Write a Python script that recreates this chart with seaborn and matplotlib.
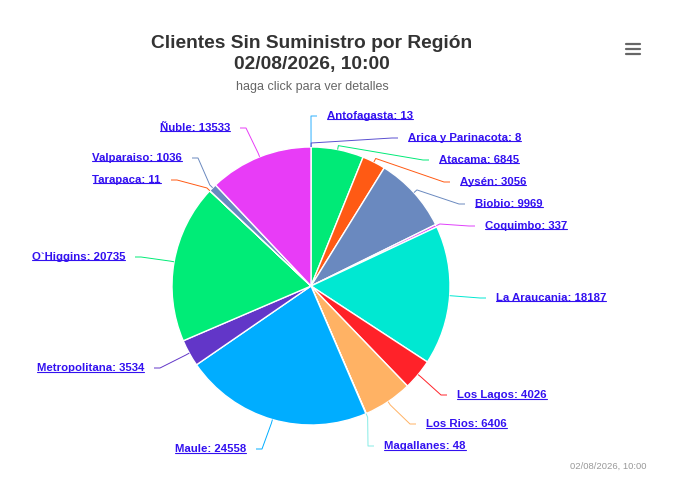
import matplotlib
matplotlib.use("Agg")
import matplotlib.pyplot as plt
import seaborn as sns
import numpy as np

# ---- data ----
regions = ["Antofagasta", "Arica y Parinacota", "Atacama", "Aysén", "Biobio",
           "Coquimbo", "La Araucania", "Los Lagos", "Los Rios", "Magallanes",
           "Maule", "Metropolitana", "O`Higgins", "Tarapaca", "Valparaiso", "Ñuble"]
clients = [13, 8, 6845, 3056, 9969, 337, 18187, 4026, 6406, 48,
           24558, 3534, 20735, 11, 1036, 13533]
colors = ["#2caffe", "#5a4fd0", "#00ea77", "#ff5a14", "#6a89bf",
          "#e040fb", "#00e8d2", "#ff2229", "#ffb264", "#86ece6",
          "#00adff", "#6236c8", "#00ec77", "#ff5a14", "#6a89bf", "#e83cf7"]

title_lines = ["Clientes Sin Suministro por Región", "02/08/2026, 10:00"]
subtitle = "haga click para ver detalles"
credit = "02/08/2026, 10:00"

# ---- layout (pixels from top-left) ----
W, H = 680, 494
cx, cy_px, R = 311, 286, 139
label_layout = [  # x anchor, y centre, side
    (327, 116, "R"), (408, 138, "R"), (439, 160, "R"), (460, 182, "R"),
    (475, 204, "R"), (485, 226, "R"), (496, 298, "R"), (457, 395, "R"),
    (426, 424, "R"), (384, 446, "R"), (246, 449, "L"), (144, 368, "L"),
    (125, 257, "L"), (161, 180, "L"), (182, 158, "L"), (230, 128, "L"),
]

sns.set_theme(style="white")
plt.rcParams['font.family'] = ['Liberation Sans', 'DejaVu Sans']

fig = plt.figure(figsize=(W / 100, H / 100), dpi=100)
fig.patch.set_facecolor("white")
ax = fig.add_axes([0, 0, 1, 1])
cy = H - cy_px

palette = sns.color_palette(colors)
wedges, _ = ax.pie(clients, colors=palette, startangle=90, counterclock=False,
                   center=(cx, cy), radius=R, frame=True,
                   wedgeprops=dict(edgecolor="white", linewidth=1.0))
ax.set_xlim(0, W)
ax.set_ylim(0, H)
ax.set_aspect("auto")
ax.axis("off")

link_color = "#3311f0"
texts = []
for w, name, val, col, (lx, ly_px, side) in zip(wedges, regions, clients, colors, label_layout):
    ang = np.deg2rad((w.theta1 + w.theta2) / 2)
    ex, ey = cx + R * np.cos(ang), cy + R * np.sin(ang)
    sx, sy = cx + (R + 4) * np.cos(ang), cy + (R + 4) * np.sin(ang)
    ly = H - ly_px
    d = 1 if side == "R" else -1
    px = [ex, sx, lx - d * 16, lx - d * 10]
    py = [ey, sy, ly, ly]
    ax.plot(px, py, color=col, lw=0.7, solid_capstyle="butt", zorder=1)
    t = ax.text(lx, ly, f"{name}: {val}", ha="left" if side == "R" else "right",
                va="center", fontsize=8.2, fontweight="bold", color=link_color)
    texts.append(t)

ax.text(312, H - 44, title_lines[0], ha="center", va="center", fontsize=13.8,
        fontweight="bold", color="#333333")
ax.text(312, H - 65, title_lines[1], ha="center", va="center", fontsize=13.8,
        fontweight="bold", color="#333333")
ax.text(312, H - 87, subtitle, ha="center", va="center", fontsize=9, color="#666666")
ax.text(646, H - 466, credit, ha="right", va="center", fontsize=6.8, color="#999999")

# menu icon
for yy in (44, 49, 54):
    ax.plot([626, 640], [H - yy, H - yy], color="#666666", lw=1.6, solid_capstyle="round")

# underline labels
fig.canvas.draw()
renderer = fig.canvas.get_renderer()
inv = ax.transData.inverted()
for t in texts:
    bb = t.get_window_extent(renderer)
    (x0, y0), (x1, y1) = inv.transform([(bb.x0, bb.y0), (bb.x1, bb.y1)])
    ax.plot([x0, x1], [y0 + 1.5, y0 + 1.5], color=link_color, lw=0.8)

fig.savefig("out.png", dpi=100, facecolor="white")
